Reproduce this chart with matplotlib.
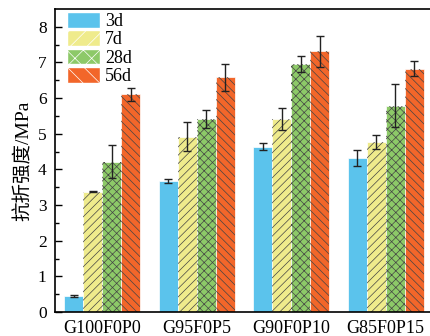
import numpy as np
import matplotlib
matplotlib.use("Agg")
import matplotlib.pyplot as plt
from matplotlib.patches import Patch

groups = ["G100F0P0", "G95F0P5", "G90F0P10", "G85F0P15"]
ages = ["3d", "7d", "28d", "56d"]
strength = {
    "3d":  [0.46, 3.68, 4.64, 4.32],
    "7d":  [3.38, 4.92, 5.41, 4.76],
    "28d": [4.22, 5.41, 6.96, 5.79],
    "56d": [6.11, 6.58, 7.31, 6.82],
}
err = {
    "3d":  [0.03, 0.06, 0.10, 0.22],
    "7d":  [0.02, 0.40, 0.31, 0.20],
    "28d": [0.47, 0.26, 0.23, 0.60],
    "56d": [0.18, 0.38, 0.44, 0.21],
}

colors = ["#5BC3EC", "#EFEB8C", "#8DC968", "#F2662A"]
hatches = [None, "////", "xxxx", "\\\\\\\\"]

plt.rcParams["hatch.linewidth"] = 0.5
plt.rcParams["font.family"] = ["Liberation Serif", "Noto Sans CJK SC"]

fig = plt.figure(figsize=(4.30, 3.36), dpi=100)
ax = fig.add_axes([55 / 430, 24 / 336, 378 / 430, 303 / 336])

x = np.arange(len(groups))
w = 0.2
for i, age in enumerate(ages):
    pos = x + (i - 1.5) * w
    ax.bar(pos, strength[age], w, color=colors[i], edgecolor="white", linewidth=0.5)
    if hatches[i]:
        ax.bar(pos, strength[age], w, fill=False, hatch=hatches[i],
               edgecolor="#444444", linewidth=0)
    ax.errorbar(pos, strength[age], yerr=err[age], fmt="none", ecolor="#222222",
                elinewidth=1, capsize=2.8, capthick=1)

ax.set_xlim(-0.5, 3.5)
ax.set_ylim(0, 8.5)
ax.set_xticks(x)
ax.set_xticklabels(groups)
ax.set_yticks(range(0, 9))
ax.set_yticks(np.arange(0.5, 8.5, 1), minor=True)
ax.tick_params(axis="y", which="both", direction="in", labelsize=12.5, width=1, pad=6)
ax.tick_params(axis="y", which="major", length=5)
ax.tick_params(axis="y", which="minor", length=3)
ax.tick_params(axis="x", length=0, labelsize=13, pad=6)
ax.set_ylabel("抗折强度/MPa", fontsize=14, labelpad=4)
for s in ax.spines.values():
    s.set_linewidth(1.2)

handles = [Patch(facecolor=colors[i], edgecolor="white", hatch=hatches[i] and hatches[i][:2])
           for i in range(4)]
ax.legend(handles, ages, loc="upper left", frameon=False, fontsize=13,
          handlelength=1.8, handleheight=0.95, labelspacing=0.02,
          borderpad=0, borderaxespad=0, handletextpad=0.3,
          bbox_to_anchor=(12 / 378, 1 - 3 / 303))

fig.savefig("out.png", dpi=100)
